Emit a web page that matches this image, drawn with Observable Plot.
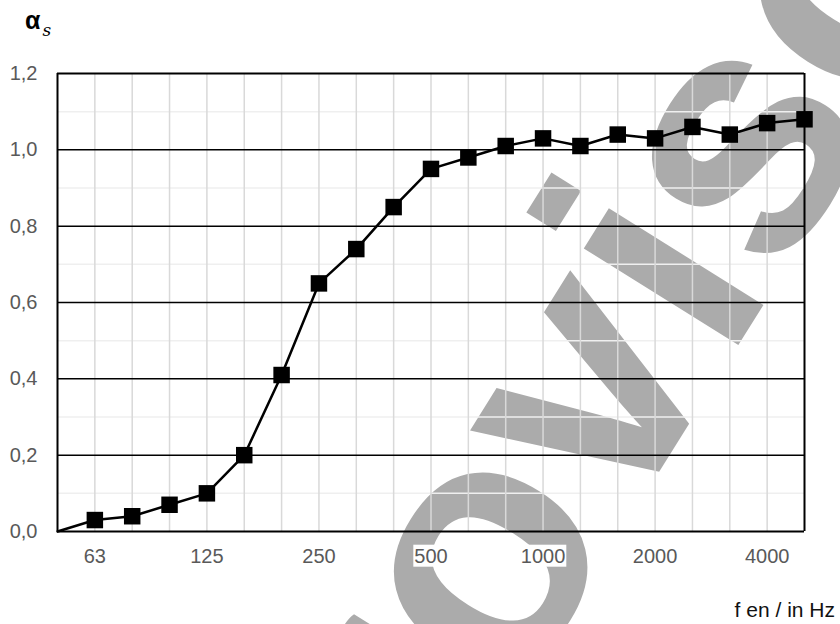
<!DOCTYPE html>
<html>
<head>
<meta charset="utf-8">
<script src="https://cdn.jsdelivr.net/npm/d3@7"></script>
<script src="https://cdn.jsdelivr.net/npm/@observablehq/plot@0.6"></script>
<style>
  html, body { margin: 0; padding: 0; background: #fff; }
  #wrap { position: relative; width: 840px; height: 624px; font-family: "Liberation Sans", Arial, sans-serif; }
  #title { position: absolute; left: 25px; top: 8px; font-size: 25px; font-weight: bold; color: #000; line-height: 25px; white-space: nowrap; }
  #title i { font-family: "DejaVu Serif", serif; font-weight: normal; font-style: italic; font-size: 17px; position: relative; top: 7px; left: 2px; }
  #xlabel { position: absolute; right: 5px; top: 598px; font-size: 21px; color: #111; line-height: 24px; white-space: nowrap; }
</style>
</head>
<body>
<div id="wrap">
  <div id="chart"></div>
  <div id="title">α<i>s</i></div>
  <div id="xlabel">f en / in Hz</div>
</div>
<script>
// Data
const freqs = ["50","63","80","100","125","160","200","250","315","400","500","630","800","1000","1250","1600","2000","2500","3150","4000","5000"];
const alpha = [0.00,0.03,0.04,0.07,0.10,0.20,0.41,0.65,0.74,0.85,0.95,0.98,1.01,1.03,1.01,1.04,1.03,1.06,1.04,1.07,1.08];
const xTickLabels = ["63","125","250","500","1000","2000","4000"];
const yMajorTicks = [0, 0.2, 0.4, 0.6, 0.8, 1.0, 1.2];
const yMinorTicks = [0.1, 0.3, 0.5, 0.7, 0.9, 1.1];

const data = freqs.map((f, i) => ({f, a: alpha[i]}));
const fmt = d => d.toFixed(1).replace(".", ",");

const chart = Plot.plot({
  width: 840,
  height: 624,
  marginLeft: 57,
  marginRight: 36,
  marginTop: 73,
  marginBottom: 93,
  style: {fontFamily: "'Liberation Sans', Arial, sans-serif", background: "transparent", overflow: "visible"},
  x: {type: "point", domain: freqs, padding: 0, round: false, axis: null},
  y: {domain: [0, 1.2], axis: null},
  marks: [
    Plot.ruleY(yMinorTicks, {stroke: "#efefef", strokeWidth: 1.5}),
    Plot.ruleX(freqs.slice(1, -1), {stroke: "#d9d9d9", strokeWidth: 1.5}),
    Plot.ruleY(yMajorTicks.slice(1, -1), {stroke: "#000", strokeWidth: 1.5}),
    Plot.ruleY([yMajorTicks[0], yMajorTicks[yMajorTicks.length - 1]], {stroke: "#000", strokeWidth: 2}),
    Plot.ruleX([freqs[0], freqs[freqs.length - 1]], {stroke: "#000", strokeWidth: 2}),
    Plot.line(data, {x: "f", y: "a", stroke: "#000", strokeWidth: 2.5}),
    Plot.dot(data.slice(1), {x: "f", y: "a", symbol: "square", fill: "#000", stroke: "none", r: 9.3}),
    Plot.axisX({ticks: xTickLabels, tickSize: 0, tickPadding: 17, fontSize: 20, color: "#595959", label: null}),
    Plot.axisY({ticks: yMajorTicks, tickSize: 0, tickPadding: 20, fontSize: 20, tickFormat: fmt, color: "#595959", label: null})
  ]
});

document.getElementById("chart").appendChild(chart);

const svg = chart.tagName.toLowerCase() === "svg" ? chart : chart.querySelector("svg");
const ns = "http://www.w3.org/2000/svg";

// tick label colour + white boxes behind x tick labels
svg.querySelectorAll('g[aria-label="x-axis tick label"] text, g[aria-label="y-axis tick label"] text').forEach(t => {
  t.setAttribute("fill", "#595959");
});
svg.querySelectorAll('g[aria-label="x-axis tick label"] text').forEach(t => {
  const b = t.getBBox();
  const r = document.createElementNS(ns, "rect");
  r.setAttribute("x", b.x - 1);
  r.setAttribute("y", b.y);
  r.setAttribute("width", b.width + 2);
  r.setAttribute("height", b.height);
  r.setAttribute("fill", "#fff");
  const tr = t.getAttribute("transform");
  if (tr) r.setAttribute("transform", tr);
  t.parentNode.insertBefore(r, t);
});

// watermark beneath the chart
const FS = 345;
const wm = document.createElementNS(ns, "text");
wm.textContent = "provisorisch";
wm.setAttribute("font-family", "'Liberation Sans', Arial, sans-serif");
wm.setAttribute("font-weight", "bold");
wm.setAttribute("font-size", FS);
wm.setAttribute("text-anchor", "start");
wm.setAttribute("fill", "#ababab");
svg.insertBefore(wm, svg.firstChild);
const off = wm.getSubStringLength(0, 2) + wm.getSubStringLength(2, 1) / 2;
wm.setAttribute("transform", `translate(492,570) rotate(-58) translate(${-off},${0.26 * FS})`);
</script>
</body>
</html>
